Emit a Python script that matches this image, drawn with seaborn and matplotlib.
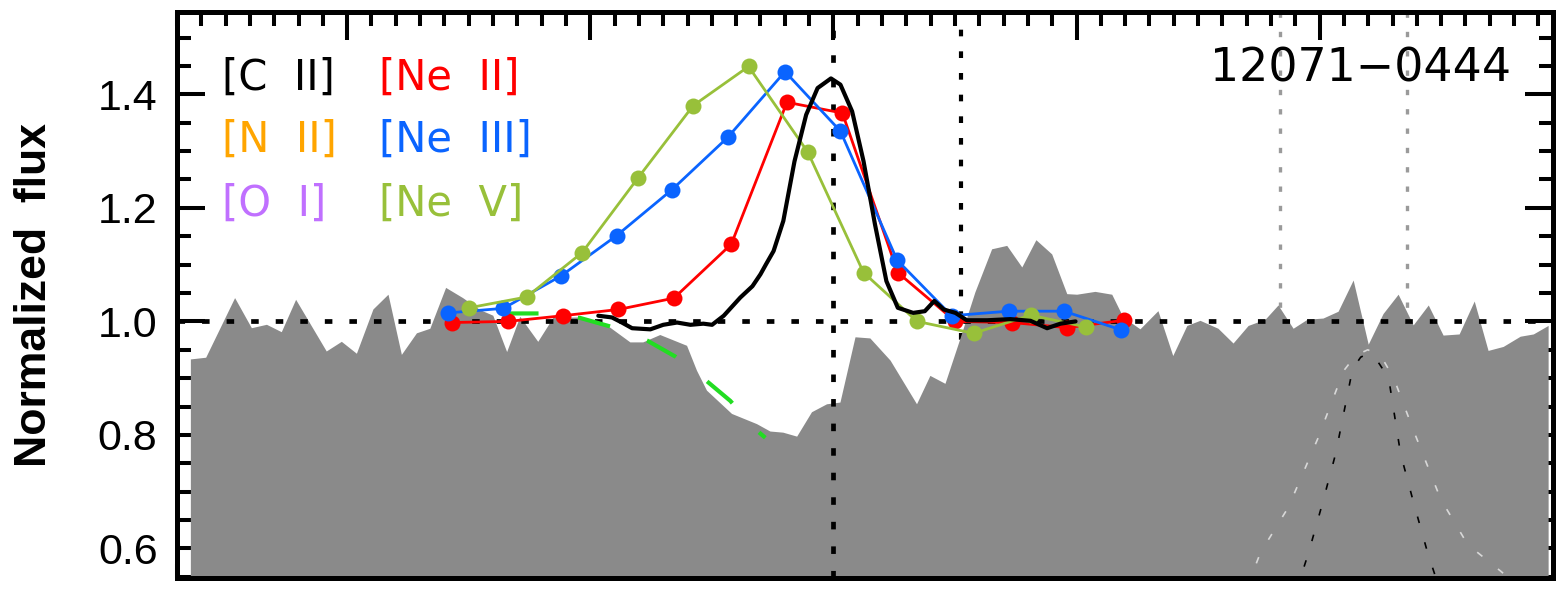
import matplotlib
matplotlib.use("Agg")
import matplotlib.pyplot as plt
from matplotlib.ticker import MultipleLocator, FormatStrFormatter
import pandas as pd
import seaborn as sns

# Velocity axis in km/s relative to systemic; flux normalised to the continuum.

# Grey absorption spectrum
cont_v = [-2643, -2580, -2461, -2392, -2330, -2269, -2210, -2084, -2022, -1960,
          -1892, -1830, -1775, -1713, -1658, -1593, -1523, -1453, -1399, -1342,
          -1288, -1214, -1152, -1041, -918, -835, -782, -712, -602, -561,
          -520, -417, -314, -259, -206, -149, -88, -26, 29, 91,
          152, 235, 344, 399, 461, 523, 584, 653, 715, 777,
          835, 900, 962, 1003, 1078, 1147, 1193, 1263, 1337, 1398,
          1456, 1510, 1584, 1646, 1708, 1778, 1831, 1893, 1951, 2016,
          2078, 2140, 2202, 2263, 2325, 2387, 2449, 2510, 2576, 2638,
          2695, 2757, 2827, 2881, 2942]
cont_flux = [0.933, 0.936, 1.041, 0.988, 0.994, 0.981, 1.038, 0.947, 0.964, 0.943,
             1.021, 1.047, 0.941, 0.979, 0.987, 1.059, 1.041, 1.020, 1.010, 0.946,
             1.008, 0.964, 1.006, 1.007, 0.989, 0.963, 0.963, 0.976, 0.957, 0.913,
             0.878, 0.837, 0.819, 0.806, 0.804, 0.797, 0.840, 0.854, 0.857, 0.972,
             0.970, 0.931, 0.854, 0.904, 0.890, 0.970, 1.051, 1.127, 1.133, 1.095,
             1.143, 1.118, 1.048, 1.047, 1.052, 1.047, 1.007, 0.986, 1.018, 0.939,
             0.992, 1.001, 0.987, 0.961, 0.992, 1.003, 1.028, 0.987, 1.003, 1.005,
             1.017, 1.072, 0.959, 1.013, 1.047, 0.993, 1.028, 0.975, 0.977, 1.035,
             0.948, 0.955, 0.973, 0.977, 0.992]

# Blue-wing fit to the absorption (green dashed)
wing_v = [-1350, -1206, -1041, -909, -765, -650, -527, -424, -321, -280]
wing_flux = [1.014, 1.014, 1.006, 0.990, 0.966, 0.938, 0.897, 0.860, 0.810, 0.795]

# [Ne II]
neii_v = [-1569, -1338, -1113, -884, -656, -420, -191, 37, 265, 502, 735, 962, 1195]
neii_flux = [0.998, 1.000, 1.010, 1.021, 1.041, 1.136, 1.386, 1.367, 1.086, 1.000,
             0.998, 0.989, 1.002]

# [Ne III]
neiii_v = [-1585, -1357, -1121, -892, -664, -435, -199, 29, 262, 486, 721, 948, 1184]
neiii_flux = [1.015, 1.023, 1.080, 1.151, 1.232, 1.324, 1.440, 1.335, 1.108, 1.010,
              1.018, 1.018, 0.985]

# [Ne V]
nev_v = [-1498, -1262, -1034, -805, -577, -349, -105, 124, 344, 577, 811, 1041]
nev_flux = [1.024, 1.043, 1.121, 1.252, 1.380, 1.449, 1.298, 1.086, 1.000, 0.979,
            1.011, 0.990]

# [C II]
cii_v = [-967, -911, -870, -828, -753, -700, -643, -588, -535, -499,
         -451, -383, -333, -300, -278, -246, -206, -160, -112, -65,
         -10, 29, 77, 124, 171, 218, 265, 328, 376, 415,
         454, 502, 549, 633, 728, 811, 879, 934, 996]
cii_flux = [1.010, 1.007, 0.998, 0.988, 0.986, 0.994, 0.998, 0.994, 0.996, 0.994,
            1.010, 1.042, 1.062, 1.083, 1.100, 1.124, 1.177, 1.282, 1.364, 1.411,
            1.428, 1.417, 1.370, 1.282, 1.171, 1.071, 1.024, 1.015, 1.018, 1.036,
            1.021, 1.015, 1.002, 1.002, 1.004, 1.001, 0.988, 0.996, 1.000]

# Resolution profiles
res_narrow_v = [1900, 1955, 2012, 2066, 2128, 2150, 2169, 2198, 2226, 2246, 2284,
                2333, 2387, 2444, 2500]
res_narrow_flux = [0.52, 0.593, 0.680, 0.767, 0.900, 0.925, 0.937, 0.943, 0.937,
                   0.925, 0.900, 0.767, 0.680, 0.593, 0.52]
res_wide_v = [1700, 1757, 1872, 1992, 2099, 2148, 2198, 2251, 2305, 2387, 2498,
              2609, 2745, 2800]
res_wide_flux = [0.53, 0.593, 0.673, 0.793, 0.913, 0.940, 0.950, 0.940, 0.900,
                 0.807, 0.687, 0.607, 0.560, 0.54]

# Reference velocities
v_sys = 0
v_marker = 523
v_grey_marks = [1835, 2358]

legend_rows = [("[C  II]", "black", "[Ne  II]", "#ff0000"),
               ("[N  II]", "#ffa500", "[Ne  III]", "#0a64ff"),
               ("[O  I]", "#c070ff", "[Ne  V]", "#98c03a")]
object_name = "12071\u22120444"

sns.set_style("ticks")
plt.rcParams["font.family"] = ["Liberation Sans", "DejaVu Sans"]
plt.rcParams["text.color"] = "black"
plt.rcParams["axes.labelcolor"] = "black"
plt.rcParams["xtick.color"] = "black"
plt.rcParams["ytick.color"] = "black"
plt.rcParams["axes.edgecolor"] = "black"

W, H = 1567, 591
fig = plt.figure(figsize=(W / 100, H / 100), dpi=100)
ax = fig.add_axes([177 / W, 1 - 578 / H, 1376 / W, 566 / H])

dot = (0, (1.6, 3.6))

# lines sitting behind the spectrum
ax.axvline(v_marker, color="black", lw=3.0, ls=dot, zorder=0.5)
for v in v_grey_marks:
    ax.axvline(v, color="#9a9a9a", lw=2.4, ls=(0, (1.6, 4.2)), zorder=0.5)

ax.fill_between(cont_v, cont_flux, 0, color="#8a8a8a", lw=0, zorder=1)

ax.axhline(1.0, color="black", lw=3.4, ls=dot, zorder=2)
ax.axvline(v_sys, color="black", lw=3.4, ls=dot, zorder=2)

ax.plot(res_wide_v, res_wide_flux, color="#d8d8d8", lw=1.2, ls=(0, (4, 12)), zorder=2)
ax.plot(res_narrow_v, res_narrow_flux, color="black", lw=1.2, ls=(0, (4, 12)), zorder=2)

ax.plot(wing_v, wing_flux, color="#22dd22", lw=3.0, ls=(0, (8, 9.5)), zorder=2.6)

series = [(neii_v, neii_flux, "#ff0000"),
          (neiii_v, neiii_flux, "#0a64ff"),
          (nev_v, nev_flux, "#98c03a")]
for i, (vx, fy, col) in enumerate(series):
    df = pd.DataFrame({"v": vx, "f": fy})
    sns.lineplot(data=df, x="v", y="f", ax=ax, color=col, lw=2.0, marker="o",
                 markersize=11.5, markeredgewidth=0, sort=False, estimator=None,
                 zorder=3 + i)

df_cii = pd.DataFrame({"v": cii_v, "f": cii_flux})
sns.lineplot(data=df_cii, x="v", y="f", ax=ax, color="black", lw=3.0,
             sort=False, estimator=None, zorder=7)

ax.set_xlim(-2700, 2960)
ax.set_ylim(0.548, 1.545)
ax.set_xlabel("")
ax.set_ylabel("")

ax.xaxis.set_major_locator(MultipleLocator(1000))
ax.xaxis.set_minor_locator(MultipleLocator(100))
ax.yaxis.set_major_locator(MultipleLocator(0.2))
ax.yaxis.set_minor_locator(MultipleLocator(0.05))
ax.yaxis.set_major_formatter(FormatStrFormatter("%.1f"))

ax.tick_params(which="both", direction="in", top=True, right=True,
               labelbottom=False, width=2.9, color="black")
ax.tick_params(which="major", length=20)
ax.tick_params(which="minor", length=10)
ax.tick_params(axis="y", which="major", pad=14, labelsize=31, labelcolor="black")

for s in ax.spines.values():
    s.set_linewidth(3.6)
    s.set_color("black")
    s.set_visible(True)

fig.text(35 / W, 1 - 295 / H, "Normalized  flux", rotation=90, ha="center",
         va="center", fontsize=32, fontweight="bold", color="black")

row_base = [90, 152, 216]
for (t1, c1, t2, c2), yb in zip(legend_rows, row_base):
    fig.text(222 / W, 1 - yb / H, t1, color=c1, fontsize=30, ha="left",
             va="baseline", family="DejaVu Sans")
    fig.text(379 / W, 1 - yb / H, t2, color=c2, fontsize=30, ha="left",
             va="baseline", family="DejaVu Sans")

fig.text(1511 / W, 1 - 81 / H, object_name, ha="right", va="baseline",
         fontsize=33, family="DejaVu Sans", color="black")

fig.savefig("out.png", dpi=100)
